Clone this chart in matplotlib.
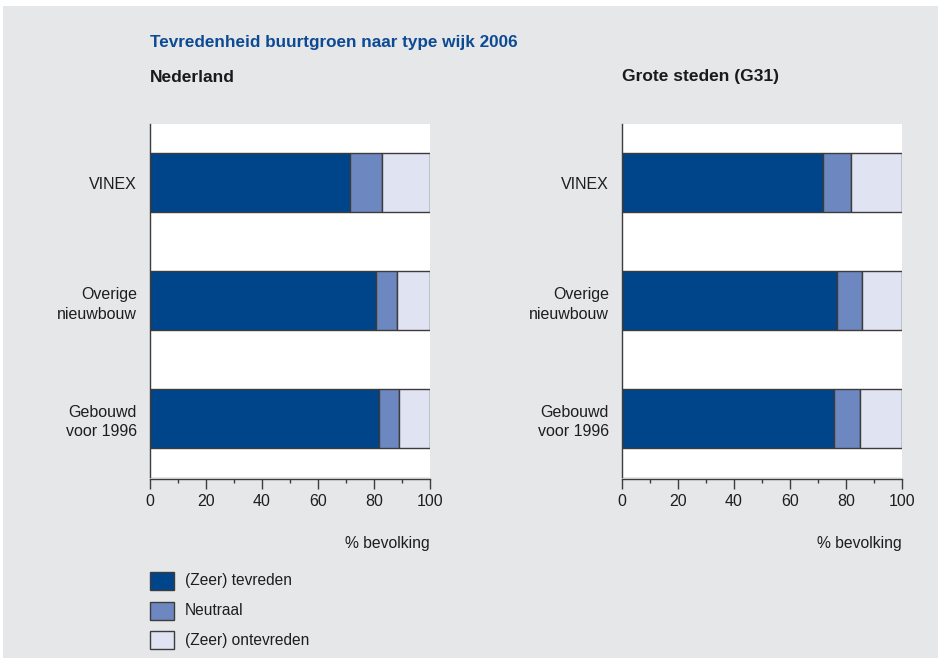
import matplotlib
matplotlib.use("Agg")
import matplotlib.pyplot as plt
from matplotlib.patches import Rectangle
from matplotlib.ticker import MultipleLocator

plt.rcParams['font.family'] = ['Liberation Sans', 'DejaVu Sans']

categories = ["VINEX", "Overige\nnieuwbouw", "Gebouwd\nvoor 1996"]
series_names = ["(Zeer) tevreden", "Neutraal", "(Zeer) ontevreden"]

nederland_tevreden = [71.4, 80.6, 81.7]
nederland_neutraal = [11.5, 7.5, 7.1]
nederland_ontevreden = [17.1, 11.9, 11.2]

g31_tevreden = [71.8, 76.7, 75.8]
g31_neutraal = [10.1, 9.1, 9.3]
g31_ontevreden = [18.1, 14.2, 14.9]

x_ticks = [0, 20, 40, 60, 80, 100]

colors = ["#00448a", "#6d87c1", "#e0e3f2"]
bg = "#e6e7e9"
title_blue = "#0d4a94"
edge = "#3c3c3c"
text_col = "#1e1e1e"

W, H = 938, 658
fig = plt.figure(figsize=(W / 100, H / 100), dpi=100, facecolor="white")
fig.patches.append(Rectangle((3 / W, 0), 1, 1 - 6 / H, transform=fig.transFigure,
                             facecolor=bg, edgecolor="none", zorder=-10))

def px_rect(x0, y0, x1, y1):
    return [x0 / W, 1 - y1 / H, (x1 - x0) / W, (y1 - y0) / H]

panels = [
    ("Nederland", px_rect(150, 124, 430, 477),
     [nederland_tevreden, nederland_neutraal, nederland_ontevreden]),
    ("Grote steden (G31)", px_rect(622, 124, 902, 477),
     [g31_tevreden, g31_neutraal, g31_ontevreden]),
]

for name, rect, series in panels:
    ax = fig.add_axes(rect)
    ax.set_facecolor("white")
    ypos = list(range(len(categories)))
    left = [0.0] * len(categories)
    for vals, col in zip(series, colors):
        ax.barh(ypos, vals, left=left, height=0.5, color=col,
                edgecolor=edge, linewidth=1.0, zorder=2)
        left = [l + v for l, v in zip(left, vals)]
    ax.set_xlim(0, 100)
    ax.set_ylim(len(categories) - 0.5, -0.5)
    ax.set_yticks(ypos)
    ax.set_yticklabels(categories, ha="right", linespacing=1.4)
    ax.set_xticks(x_ticks)
    ax.xaxis.set_minor_locator(MultipleLocator(10))
    ax.tick_params(axis="y", length=0, pad=9.5, labelsize=11.5, labelcolor=text_col)
    ax.tick_params(axis="x", which="major", direction="out", length=7.5,
                   width=1, color=edge, pad=3, labelsize=11.5, labelcolor=text_col)
    ax.tick_params(axis="x", which="minor", direction="out", length=3,
                   width=1, color=edge)
    for s in ("top", "right"):
        ax.spines[s].set_visible(False)
    for s in ("left", "bottom"):
        ax.spines[s].set_color(edge)
        ax.spines[s].set_linewidth(1)
    ax.spines["bottom"].set_position(("outward", 1.5))
    ax.set_xlabel("% bevolking", loc="right", fontsize=11.3, color=text_col,
                  labelpad=20)
    fig.text(rect[0], 1 - 77 / H, name, fontsize=12.5, fontweight="bold",
             color="#1a1a1a", ha="left", va="center")

fig.text(150 / W, 1 - 43 / H, "Tevredenheid buurtgroen naar type wijk 2006",
         fontsize=12.3, fontweight="bold", color=title_blue, ha="left", va="center")

# legend drawn as swatches with labels
for i, (lab, col) in enumerate(zip(series_names, colors)):
    y0 = 572 + i * 29.5
    fig.patches.append(Rectangle((150 / W, 1 - (y0 + 18) / H), 24 / W, 18 / H,
                                 transform=fig.transFigure, facecolor=col,
                                 edgecolor=edge, linewidth=1))
    fig.text(185 / W, 1 - (y0 + 9) / H, lab, fontsize=11.2, color=text_col,
             ha="left", va="center")

fig.savefig("out.png", dpi=100, facecolor=fig.get_facecolor())
